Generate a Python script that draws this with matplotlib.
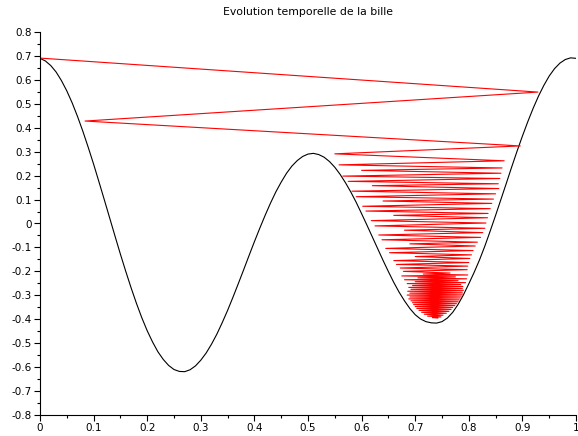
import matplotlib
matplotlib.use("Agg")
import matplotlib.pyplot as plt
from matplotlib.ticker import MultipleLocator, FuncFormatter

plt.rcParams['axes.unicode_minus'] = False

# profil du terrain
track_x = [i / 100 for i in range(101)]
track_y = [0.690, 0.679, 0.660, 0.633, 0.597, 0.554, 0.504, 0.447, 0.385, 0.318,
           0.248, 0.174, 0.099, 0.023, -0.053, -0.128, -0.200, -0.269, -0.334, -0.394,
           -0.448, -0.495, -0.536, -0.568, -0.593, -0.610, -0.618, -0.619, -0.611, -0.595,
           -0.571, -0.541, -0.504, -0.462, -0.414, -0.363, -0.308, -0.251, -0.193, -0.134,
           -0.076, -0.020, 0.034, 0.085, 0.132, 0.173, 0.210, 0.240, 0.263, 0.280,
           0.290, 0.293, 0.288, 0.277, 0.259, 0.235, 0.205, 0.170, 0.131, 0.088,
           0.041, -0.007, -0.056, -0.105, -0.154, -0.201, -0.246, -0.287, -0.323, -0.355,
           -0.381, -0.399, -0.410, -0.415, -0.416, -0.410, -0.395, -0.371, -0.338, -0.298,
           -0.252, -0.204, -0.152, -0.094, -0.031, 0.034, 0.101, 0.168, 0.236, 0.302,
           0.365, 0.425, 0.481, 0.532, 0.577, 0.616, 0.647, 0.670, 0.685, 0.692, 0.690]

# positions successives de la bille
ball_x = [0.000, 0.929, 0.084, 0.896, 0.550,
          0.866, 0.558, 0.862, 0.600, 0.860, 0.565, 0.858, 0.575, 0.855, 0.620,
          0.856, 0.582, 0.850, 0.590, 0.846, 0.640, 0.843, 0.602, 0.840, 0.608,
          0.836, 0.660, 0.835, 0.618, 0.832, 0.625, 0.830, 0.680, 0.826, 0.632,
          0.822, 0.638, 0.816, 0.690, 0.812, 0.645, 0.808, 0.652, 0.805, 0.700,
          0.802, 0.660, 0.800, 0.665, 0.798, 0.672, 0.797, 0.678,
          0.765, 0.715, 0.798, 0.675, 0.775, 0.705, 0.796, 0.680, 0.780, 0.700,
          0.794, 0.685, 0.785, 0.695, 0.789, 0.688, 0.788, 0.692, 0.790, 0.686,
          0.788, 0.690, 0.788, 0.685, 0.786, 0.690, 0.784, 0.688, 0.782, 0.692,
          0.780, 0.695, 0.777, 0.697, 0.774, 0.700, 0.770, 0.703, 0.767, 0.707,
          0.763, 0.712, 0.758, 0.717, 0.752, 0.723, 0.748, 0.732, 0.742]
ball_y = [0.691, 0.549, 0.428, 0.324, 0.291,
          0.262, 0.245, 0.232, 0.222, 0.210, 0.198, 0.188, 0.176, 0.166, 0.158,
          0.146, 0.135, 0.124, 0.112, 0.102, 0.094, 0.084, 0.072, 0.062, 0.052,
          0.042, 0.034, 0.024, 0.012, 0.002, -0.010, -0.020, -0.028, -0.038, -0.048,
          -0.058, -0.068, -0.078, -0.085, -0.094, -0.104, -0.113, -0.122, -0.131, -0.138,
          -0.146, -0.155, -0.163, -0.171, -0.178, -0.186, -0.193, -0.200,
          -0.207, -0.211, -0.215, -0.219, -0.223, -0.227, -0.231, -0.235, -0.239, -0.243,
          -0.247, -0.251, -0.255, -0.259, -0.263, -0.267, -0.271, -0.275, -0.279, -0.283,
          -0.287, -0.291, -0.295, -0.299, -0.303, -0.307, -0.311, -0.315, -0.319, -0.323,
          -0.327, -0.331, -0.335, -0.339, -0.343, -0.347, -0.351, -0.355, -0.359, -0.363,
          -0.367, -0.371, -0.375, -0.379, -0.383, -0.387, -0.390, -0.393, -0.395]

fig = plt.figure(figsize=(5.78, 4.36), dpi=100)
ax = fig.add_axes([40/578, 21/436, 536/578, 383/436])

ax.plot(track_x, track_y, color='black', lw=0.8)
ax.plot(ball_x, ball_y, color='red', lw=0.8)

ax.set_xlim(0, 1)
ax.set_ylim(-0.8, 0.8)
ax.xaxis.set_major_locator(MultipleLocator(0.1))
ax.xaxis.set_minor_locator(MultipleLocator(0.05))
ax.yaxis.set_major_locator(MultipleLocator(0.1))
ax.yaxis.set_minor_locator(MultipleLocator(0.05))
fmt = FuncFormatter(lambda v, p: "{:g}".format(round(v, 2)) if abs(v) > 1e-9 else "0")
ax.xaxis.set_major_formatter(fmt)
ax.yaxis.set_major_formatter(fmt)
ax.tick_params(which='major', length=4, width=0.8, labelsize=7.5, pad=2)
ax.tick_params(which='minor', length=2.5, width=0.8)
for s in ['top', 'right']:
    ax.spines[s].set_visible(False)

ax.set_title("Evolution temporelle de la bille", fontsize=7.8, pad=12)

fig.savefig("out.png", dpi=100)
